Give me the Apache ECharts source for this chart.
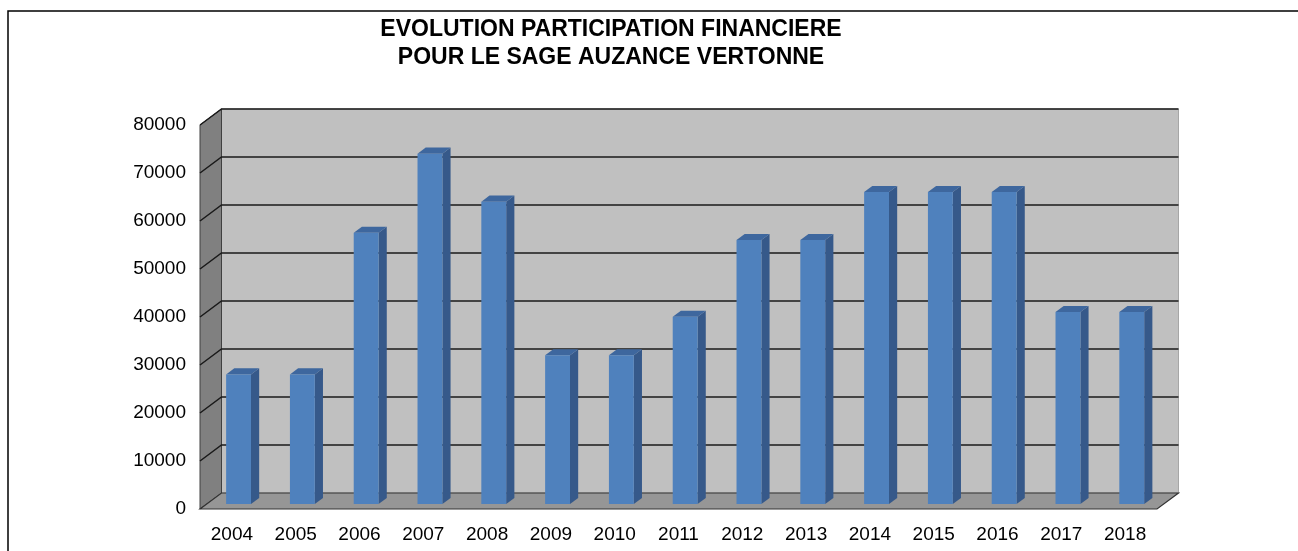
<!DOCTYPE html>
<html>
<head>
<meta charset="utf-8">
<script src="https://cdn.jsdelivr.net/npm/echarts@6/dist/echarts.min.js"></script>
<style>
  html, body { margin: 0; padding: 0; background: #fff; }
  #chart { width: 1298px; height: 551px; }
</style>
</head>
<body>
<div id="chart"></div>
<script>
// données
var years = ['2004', '2005', '2006', '2007', '2008', '2009', '2010', '2011',
  '2012', '2013', '2014', '2015', '2016', '2017', '2018'];
var montants = [27000, 27000, 56500, 73000, 63000, 31000, 31000, 39000,
  55000, 55000, 65000, 65000, 65000, 40000, 40000];
var yTicks = [0, 10000, 20000, 30000, 40000, 50000, 60000, 70000, 80000];

// profondeur de la perspective (plan avant -> mur du fond)
var DX = 21.5, DY = -16;

function shift(p, d, dx) {
  return [p[0] + (dx || 0) + d * DX, p[1] + d * DY];
}

// murs, sol et quadrillage
function renderWalls(params, api) {
  var yMax = yTicks[yTicks.length - 1];
  var bl = api.coord([0, 0]), tl = api.coord([0, yMax]);
  var half = api.size([1, 0])[0] / 2;
  var last = api.coord([years.length - 1, 0]);
  var x0 = bl[0] - half, x1 = last[0] + half;
  var yb = bl[1], yt = tl[1];
  var kids = [];
  // mur du fond
  kids.push({ type: 'polygon', shape: { points: [
      shift([x0, yt], 1), shift([x1, yt], 1), shift([x1, yb], 1), shift([x0, yb], 1)] },
    style: { fill: '#C0C0C0', stroke: '#A6A6A6', lineWidth: 1 } });
  // mur de gauche
  kids.push({ type: 'polygon', shape: { points: [
      [x0, yt], shift([x0, yt], 1), shift([x0, yb], 1), [x0, yb]] },
    style: { fill: '#808080', stroke: '#404040', lineWidth: 1 } });
  // sol
  kids.push({ type: 'polygon', shape: { points: [
      [x0, yb], [x1, yb], shift([x1, yb], 1), shift([x0, yb], 1)] },
    style: { fill: '#969696', stroke: '#333', lineWidth: 1.2 } });
  // lignes de quadrillage
  yTicks.forEach(function (t) {
    if (t === 0) return;
    var y = api.coord([0, t])[1];
    kids.push({ type: 'polyline', shape: { points: [
        [x0, y], shift([x0, y], 1), shift([x1, y], 1)] },
      style: { stroke: '#1A1A1A', lineWidth: 1.5, fill: null } });
  });
  return { type: 'group', children: kids };
}

// barres 3D
function renderBar(params, api) {
  var i = api.value(0), v = api.value(1);
  var base = api.coord([i, 0]), top = api.coord([i, v]);
  var hw = api.size([1, 0])[0] * 0.39 / 2;
  var d0 = 0.31, d1 = 0.69;
  return {
    type: 'group',
    children: [
      { type: 'polygon', shape: { points: [
          shift(top, d0, hw), shift(top, d1, hw), shift(base, d1, hw), shift(base, d0, hw)] },
        style: { fill: '#36598A' } },
      { type: 'polygon', shape: { points: [
          shift(top, d0, -hw), shift(top, d1, -hw), shift(top, d1, hw), shift(top, d0, hw)] },
        style: { fill: '#3E679E' } },
      { type: 'polygon', shape: { points: [
          shift(top, d0, -hw), shift(top, d0, hw), shift(base, d0, hw), shift(base, d0, -hw)] },
        style: { fill: '#4F81BD' } }
    ]
  };
}

var chart = echarts.init(document.getElementById('chart'));
chart.setOption({
  animation: false,
  backgroundColor: '#fff',
  title: {
    text: 'EVOLUTION PARTICIPATION FINANCIERE\nPOUR LE SAGE AUZANCE VERTONNE',
    left: 606,
    textAlign: 'center',
    top: 11,
    textStyle: {
      fontFamily: 'Liberation Sans, Arial, sans-serif',
      fontWeight: 'bold',
      fontSize: 23,
      lineHeight: 28,
      color: '#000'
    }
  },
  graphic: [{
    type: 'polyline',
    shape: { points: [[8, 551], [8, 11], [1298, 11]] },
    style: { stroke: '#000', lineWidth: 1.5, fill: null },
    silent: true
  }],
  grid: { left: 200, right: 141, top: 125, bottom: 42 },
  xAxis: {
    type: 'category',
    data: years,
    axisLine: { show: false },
    axisTick: { show: false },
    axisLabel: {
      margin: 16,
      color: '#000',
      fontSize: 19,
      fontFamily: 'Liberation Sans, Arial, sans-serif'
    }
  },
  yAxis: {
    type: 'value',
    min: 0,
    max: 80000,
    interval: 10000,
    axisLine: { show: false },
    axisTick: { show: false },
    splitLine: { show: false },
    axisLabel: {
      margin: 14,
      color: '#000',
      fontSize: 19,
      fontFamily: 'Liberation Sans, Arial, sans-serif',
      formatter: function (v) { return String(v); }
    }
  },
  series: [{
    type: 'custom',
    z: 1,
    silent: true,
    renderItem: renderWalls,
    data: [[0, 0]]
  }, {
    type: 'custom',
    z: 2,
    renderItem: renderBar,
    encode: { x: 0, y: 1 },
    data: years.map(function (y, i) { return [i, montants[i]]; })
  }]
});
</script>
</body>
</html>
